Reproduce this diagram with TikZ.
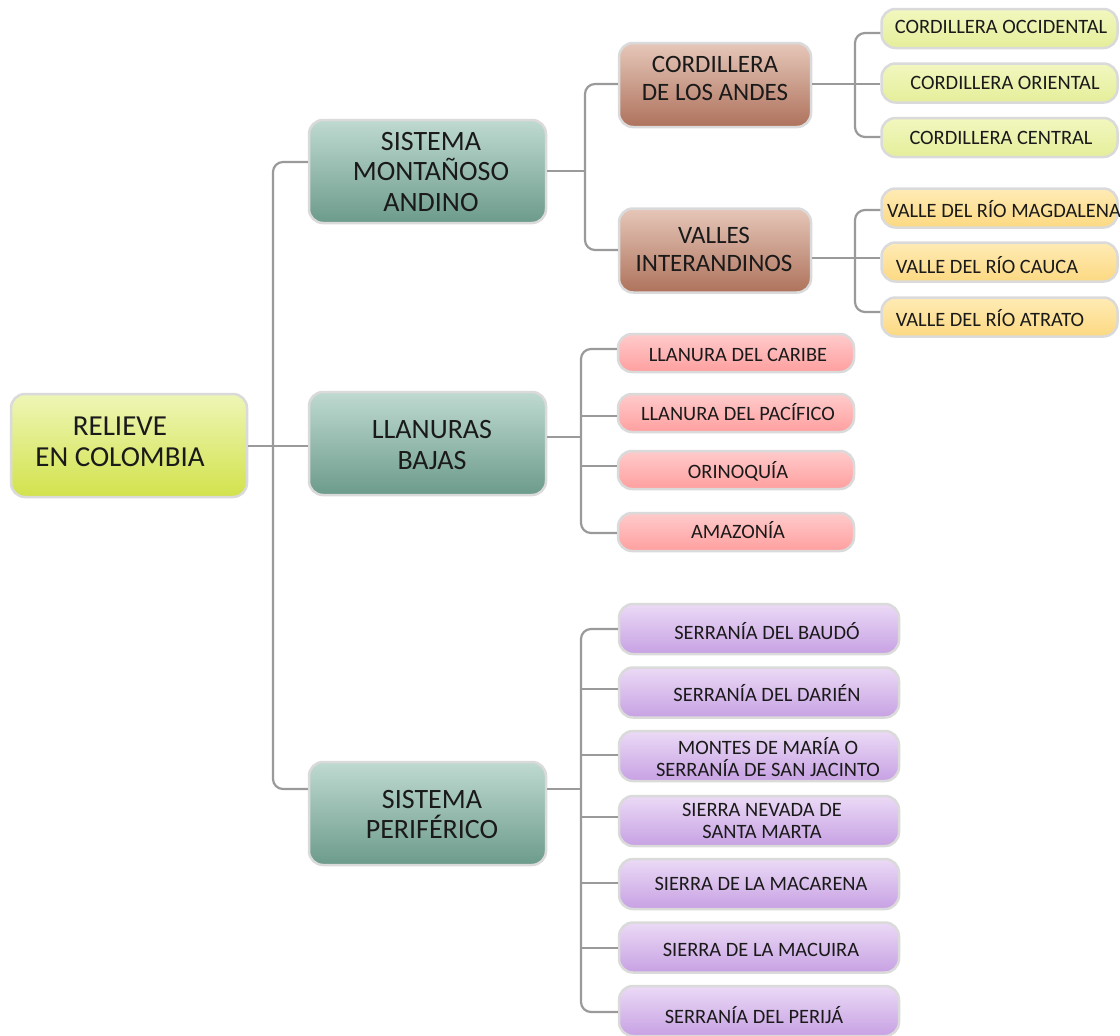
\documentclass[tikz,border=0pt]{standalone}
\usepackage{fontspec}
\setmainfont{Carlito}
\definecolor{bordergray}{HTML}{DADADA}
\definecolor{conngray}{HTML}{9A9A9A}
\definecolor{textc}{HTML}{1A1A1A}
\definecolor{rootT}{HTML}{EEF6B6}
\definecolor{rootB}{HTML}{D2E24C}
\definecolor{lvA}{HTML}{BFDAD0}
\definecolor{lvB}{HTML}{6C9B8B}
\definecolor{brT}{HTML}{E6C7B9}
\definecolor{brB}{HTML}{AE725C}
\definecolor{cordT}{HTML}{F2F7BF}
\definecolor{cordB}{HTML}{E5EE9A}
\definecolor{valT}{HTML}{FFEBB5}
\definecolor{valB}{HTML}{FCD982}
\definecolor{llaT}{HTML}{FFCBCB}
\definecolor{llaB}{HTML}{FF9F9F}
\definecolor{perT}{HTML}{EBDAF6}
\definecolor{perB}{HTML}{C7A1E3}
\tikzset{
  box/.style={draw=bordergray, line width=2.5pt, rounded corners=14pt, inner sep=0pt},
  rootbox/.style={box, top color=rootT, bottom color=rootB, minimum width=236pt, minimum height=103pt},
  lvbox/.style={box, top color=lvA, bottom color=lvB, minimum width=237pt, minimum height=103pt},
  brbox/.style={box, top color=brT, bottom color=brB, minimum width=192pt, minimum height=84pt},
  cordbox/.style={box, top color=cordT, bottom color=cordB, minimum width=236pt, minimum height=39pt},
  valbox/.style={box, top color=valT, bottom color=valB, minimum width=236pt, minimum height=39pt},
  llabox/.style={box, top color=llaT, bottom color=llaB, minimum width=236pt, minimum height=38pt},
  perbox/.style={box, top color=perT, bottom color=perB, minimum width=280pt, minimum height=50pt},
  txt/.style={align=center, text=textc, inner sep=0pt},
  roottxt/.style={txt, font=\fontsize{29}{31}\selectfont},
  lvtxt/.style={txt, font=\fontsize{28}{30.5}\selectfont},
  brtxt/.style={txt, font=\fontsize{25}{27.5}\selectfont},
  leaftxt/.style={txt, font=\fontsize{20.4}{21.5}\selectfont},
  conn/.style={draw=conngray, line width=2.2pt, rounded corners=10pt},
}
\begin{document}
\begin{tikzpicture}[x=1pt,y=-1pt]
\useasboundingbox (0,0) rectangle (1120,1036);

% boxes
\node[rootbox] (root) at (129,445.5) {};
\node[lvbox] (sma) at (427.5,171.5) {};
\node[lvbox] (lb) at (427.5,443.5) {};
\node[lvbox] (sp) at (427.5,813.5) {};
\node[brbox] (cda) at (715,85) {};
\node[brbox] (vi) at (715,250.5) {};
\node[cordbox] (cO) at (999.5,28.5) {};
\node[cordbox] (cR) at (999.5,83) {};
\node[cordbox] (cC) at (999.5,137.5) {};
\node[valbox] (vM) at (999.5,208) {};
\node[valbox] (vC) at (999.5,262) {};
\node[valbox] (vA) at (999.5,317) {};
\node[llabox] (l1) at (736,353) {};
\node[llabox] (l2) at (736,413) {};
\node[llabox] (l3) at (736,470) {};
\node[llabox] (l4) at (736,532) {};
\node[perbox] (p1) at (759,629) {};
\node[perbox] (p2) at (759,692.5) {};
\node[perbox] (p3) at (759,756) {};
\node[perbox] (p4) at (759,821) {};
\node[perbox] (p5) at (759,884) {};
\node[perbox] (p6) at (759,947.5) {};
\node[perbox] (p7) at (759,1011) {};

% texts
\node[roottxt] (troot) at (120,442) {RELIEVE\\EN COLOMBIA};
\node[lvtxt] (tsma) at (431,172) {SISTEMA\\MONTAÑOSO\\ANDINO};
\node[lvtxt] (tlb) at (432,445) {LLANURAS\\BAJAS};
\node[lvtxt] (tsp) at (432,814.5) {SISTEMA\\PERIFÉRICO};
\node[brtxt] (tcda) at (715,78.5) {CORDILLERA\\DE LOS ANDES};
\node[brtxt] (tvi) at (714,249.5) {VALLES\\INTERANDINOS};
\node[leaftxt] (tcO) at (1001,27) {CORDILLERA OCCIDENTAL};
\node[leaftxt] (tcR) at (1005,82.5) {CORDILLERA ORIENTAL};
\node[leaftxt] (tcC) at (1001,137.5) {CORDILLERA CENTRAL};
\node[leaftxt] (tvM) at (1004,209.5) {VALLE DEL RÍO MAGDALENA};
\node[leaftxt] (tvC) at (987,265) {VALLE DEL RÍO CAUCA};
\node[leaftxt] (tvA) at (990,318.5) {VALLE DEL RÍO ATRATO};
\node[leaftxt] (tl1) at (738,354.5) {LLANURA DEL CARIBE};
\node[leaftxt] (tl2) at (738,412) {LLANURA DEL PACÍFICO};
\node[leaftxt] (tl3) at (738,471) {ORINOQUÍA};
\node[leaftxt] (tl4) at (738,530.5) {AMAZONÍA};
\node[leaftxt] (tp1) at (767,631) {SERRANÍA DEL BAUDÓ};
\node[leaftxt] (tp2) at (767,693) {SERRANÍA DEL DARIÉN};
\node[leaftxt] (tp3) at (768,757) {MONTES DE MARÍA O\\SERRANÍA DE SAN JACINTO};
\node[leaftxt] (tp4) at (762,821) {SIERRA NEVADA DE\\SANTA MARTA};
\node[leaftxt] (tp5) at (761,883.5) {SIERRA DE LA MACARENA};
\node[leaftxt] (tp6) at (761,950) {SIERRA DE LA MACUIRA};
\node[leaftxt] (tp7) at (754,1015) {SERRANÍA DEL PERIJÁ};

% connectors: root
\draw[conn] (sma.west |- 0,162) -| (273,446) |- (sp.west |- 0,789);
\draw[conn] (root.east |- 0,446) -- (lb.west |- 0,446);

% sistema montañoso andino
\draw[conn] (cda.west |- 0,84) -| (585,171) |- (vi.west |- 0,250);
\draw[conn] (sma.east |- 0,171) -- (585,171);

% cordillera de los andes
\draw[conn] (cO.west |- 0,33) -| (855,85) |- (cC.west |- 0,137);
\draw[conn] (cda.east |- 0,84) -- (cR.west |- 0,84);

% valles interandinos
\draw[conn] (vM.west |- 0,210) -| (855,258) |- (vA.west |- 0,312);
\draw[conn] (vi.east |- 0,258) -- (vC.west |- 0,258);

% llanuras bajas
\draw[conn] (l1.west |- 0,349) -| (581,437) |- (l4.west |- 0,533);
\draw[conn] (lb.east |- 0,437) -- (581,437);
\draw[conn] (581,416) -- (l2.west |- 0,416);
\draw[conn] (581,466) -- (l3.west |- 0,466);

% sistema periférico
\draw[conn] (p1.west |- 0,629) -| (581,789) |- (p7.west |- 0,1012);
\draw[conn] (sp.east |- 0,789) -- (581,789);
\draw[conn] (581,689) -- (p2.west |- 0,689);
\draw[conn] (581,755) -- (p3.west |- 0,755);
\draw[conn] (581,817) -- (p4.west |- 0,817);
\draw[conn] (581,883) -- (p5.west |- 0,883);
\draw[conn] (581,948) -- (p6.west |- 0,948);
\end{tikzpicture}
\end{document}
